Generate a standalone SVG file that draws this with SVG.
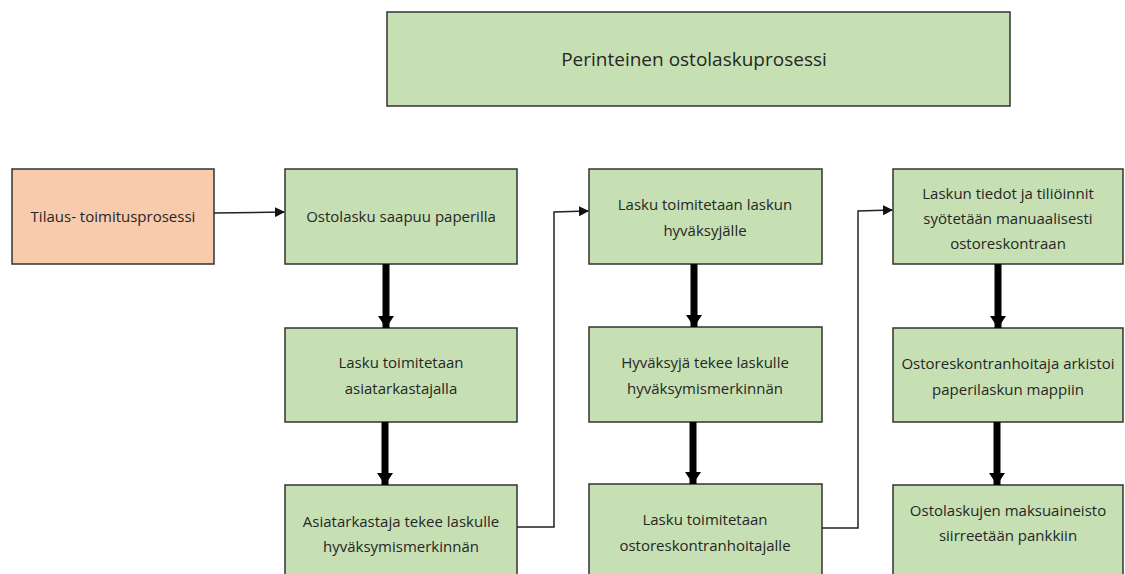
<svg xmlns="http://www.w3.org/2000/svg" width="1125" height="574" viewBox="0 0 1125 574">
  <style>
    .box { fill: #c6e0b4; stroke: #333333; stroke-width: 1.5; }
    .start { fill: #f8cbad; stroke: #333333; stroke-width: 1.5; }
    text { font-family: "Open Sans", "Liberation Sans", sans-serif; font-size: 15px; fill: #262626; text-anchor: middle; dominant-baseline: central; }
    .title { font-size: 19px; }
    .thin { fill: none; stroke: #222222; stroke-width: 1.5; }
    .thick { fill: none; stroke: #000000; stroke-width: 7; }
  </style>
  <defs>
    <marker id="tip" markerWidth="10" markerHeight="10" refX="9" refY="5" orient="auto" markerUnits="userSpaceOnUse">
      <path d="M0,0 L10,5 L0,10 Z" fill="#111111"/>
    </marker>
    <marker id="bigtip" markerWidth="12" markerHeight="16" refX="12" refY="8" orient="auto" markerUnits="userSpaceOnUse">
      <path d="M0,0 L12,8 L0,16 Z" fill="#000000"/>
    </marker>
  </defs>

  <rect width="1125" height="574" fill="#ffffff"/>

  <g id="title">
    <rect class="box" x="387" y="12" width="623" height="94"/>
    <text class="title" x="694" y="59">Perinteinen ostolaskuprosessi</text>
  </g>

  <g id="tilaus">
    <rect class="start" x="12" y="169" width="202" height="95"/>
    <text x="113" y="216">Tilaus- toimitusprosessi</text>
  </g>

  <g id="c1n1">
    <rect class="box" x="285" y="169" width="232" height="95"/>
    <text x="401" y="216">Ostolasku saapuu paperilla</text>
  </g>
  <g id="c1n2">
    <rect class="box" x="285" y="328" width="232" height="94"/>
    <text x="401" y="362">Lasku toimitetaan</text>
    <text x="401" y="388">asiatarkastajalla</text>
  </g>
  <g id="c1n3">
    <rect class="box" x="285" y="485" width="232" height="95"/>
    <text x="401" y="521">Asiatarkastaja tekee laskulle</text>
    <text x="401" y="546">hyväksymismerkinnän</text>
  </g>

  <g id="c2n1">
    <rect class="box" x="589" y="169" width="233" height="95"/>
    <text x="705" y="204">Lasku toimitetaan laskun</text>
    <text x="705" y="230">hyväksyjälle</text>
  </g>
  <g id="c2n2">
    <rect class="box" x="589" y="327" width="233" height="95"/>
    <text x="705" y="362">Hyväksyjä tekee laskulle</text>
    <text x="705" y="388">hyväksymismerkinnän</text>
  </g>
  <g id="c2n3">
    <rect class="box" x="589" y="484" width="233" height="96"/>
    <text x="705" y="519">Lasku toimitetaan</text>
    <text x="705" y="545">ostoreskontranhoitajalle</text>
  </g>

  <g id="c3n1">
    <rect class="box" x="893" y="169" width="230" height="95"/>
    <text x="1008" y="193">Laskun tiedot ja tiliöinnit</text>
    <text x="1008" y="218">syötetään manuaalisesti</text>
    <text x="1008" y="243">ostoreskontraan</text>
  </g>
  <g id="c3n2">
    <rect class="box" x="893" y="328" width="230" height="94"/>
    <text x="1008" y="363">Ostoreskontranhoitaja arkistoi</text>
    <text x="1008" y="389">paperilaskun mappiin</text>
  </g>
  <g id="c3n3">
    <rect class="box" x="893" y="485" width="230" height="95"/>
    <text x="1008" y="510">Ostolaskujen maksuaineisto</text>
    <text x="1008" y="535">siirreetään pankkiin</text>
  </g>

  <g id="connectors">
    <path class="thin" d="M214,213 L284,212" marker-end="url(#tip)"/>
    <path class="thin" d="M517,527 L554,527 L554,212 L588,211" marker-end="url(#tip)"/>
    <path class="thin" d="M822,528 L858,528 L858,211 L892,210" marker-end="url(#tip)"/>

    <path class="thick" d="M386,264 L386,328" marker-end="url(#bigtip)"/>
    <path class="thick" d="M385,422 L385,485" marker-end="url(#bigtip)"/>
    <path class="thick" d="M694,264 L694,327" marker-end="url(#bigtip)"/>
    <path class="thick" d="M693,422 L693,484" marker-end="url(#bigtip)"/>
    <path class="thick" d="M998,264 L998,328" marker-end="url(#bigtip)"/>
    <path class="thick" d="M997,422 L997,485" marker-end="url(#bigtip)"/>
  </g>
</svg>
